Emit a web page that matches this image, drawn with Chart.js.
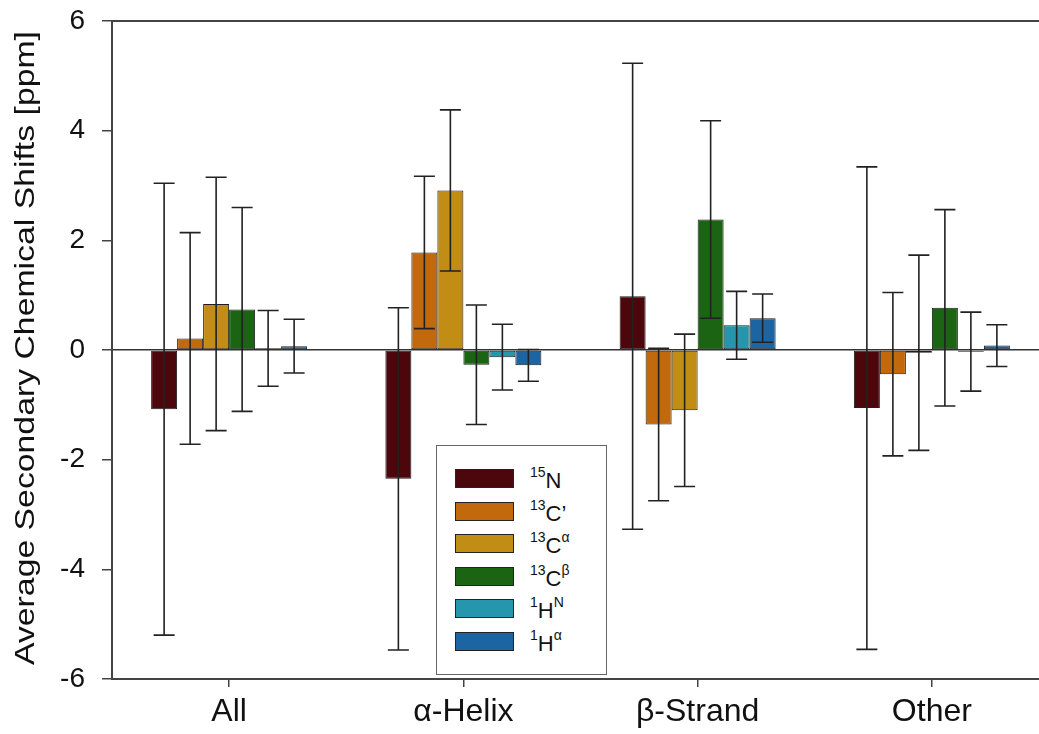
<!DOCTYPE html>
<html>
<head>
<meta charset="utf-8">
<script src="https://cdn.jsdelivr.net/npm/chart.js@4/dist/chart.umd.min.js"></script>
<style>
  html, body { margin: 0; padding: 0; background: #fff; overflow: hidden; width: 1039px; height: 734px; }
  #wrap { position: relative; width: 1050px; height: 734px; }
  canvas { position: absolute; left: 0; top: 0; }
  #legend { position: absolute; left: 436px; top: 445px; width: 169px; height: 228px; border: 1.5px solid #666; background: #fff;
            font-family: "Liberation Sans", Arial, sans-serif; color: #111; }
  .sw { position: absolute; left: 18px; width: 57px; height: 17px; border: 1px solid #222; }
  .lt { position: absolute; left: 93px; font-size: 22px; line-height: 22px; white-space: nowrap; }
  .lt .s { font-size: 14px; position: relative; top: -11px; line-height: 0; }
</style>
</head>
<body>
<div id="wrap">
  <canvas id="c" width="1050" height="734"></canvas>
  <div id="legend"></div>
</div>
<script>
// ---- data ----
const categories = ['All', 'α-Helix', 'β-Strand', 'Other'];
const seriesNames = ['15N', '13C\u2019', '13Cα', '13Cβ', '1HN', '1Hα'];
const legendPre  = ['15', '13', '13', '13', '1', '1'];
const legendMain = ['N', 'C\u2019', 'C', 'C', 'H', 'H'];
const legendPost = ['', '', 'α', 'β', 'N', 'α'];
const colors = ['#4b070c', '#c2690d', '#c18d15', '#1b6413', '#2596ab', '#1c65a2'];

const valN  = [-1.08, -2.35,  0.98, -1.06];
const valCO = [ 0.21,  1.78, -1.36, -0.44];
const valCA = [ 0.84,  2.91, -1.10, -0.05];
const valCB = [ 0.74, -0.27,  2.38,  0.77];
const valHN = [ 0.03, -0.13,  0.45, -0.03];
const valHA = [ 0.07, -0.28,  0.58,  0.08];

const errN  = [4.12, 3.12, 4.25, 4.40];
const errCO = [1.93, 1.39, 1.39, 1.49];
const errCA = [2.31, 1.47, 1.39, 1.78];
const errCB = [1.86, 1.09, 1.80, 1.79];
const errHN = [0.69, 0.60, 0.62, 0.72];
const errHA = [0.49, 0.29, 0.44, 0.38];

const yTicks = [-6, -4, -2, 0, 2, 4, 6];
const yTitle = 'Average Secondary Chemical Shifts [ppm]';

const values = [valN, valCO, valCA, valCB, valHN, valHA];
const errors = [errN, errCO, errCA, errCB, errHN, errHA];

const FONT = '"Liberation Sans", Arial, sans-serif';

const datasets = values.map((v, i) => ({
  label: seriesNames[i],
  data: v,
  errors: errors[i],
  backgroundColor: colors[i],
  borderColor: '#1e1e1e',
  borderWidth: 1,
  borderSkipped: false,
  barPercentage: 1.0,
  categoryPercentage: 0.666
}));

const errorBars = {
  id: 'errorBars',
  afterDatasetsDraw(chart) {
    const ctx = chart.ctx;
    const ys = chart.scales.y;
    ctx.save();
    ctx.strokeStyle = '#222';
    ctx.lineWidth = 1.6;
    chart.data.datasets.forEach((ds, i) => {
      const meta = chart.getDatasetMeta(i);
      meta.data.forEach((el, j) => {
        const v = ds.data[j], e = ds.errors[j];
        const yt = ys.getPixelForValue(v + e);
        const yb = ys.getPixelForValue(v - e);
        const x = el.x, hw = 10.5;
        ctx.beginPath();
        ctx.moveTo(x, yt); ctx.lineTo(x, yb);
        ctx.moveTo(x - hw, yt); ctx.lineTo(x + hw, yt);
        ctx.moveTo(x - hw, yb); ctx.lineTo(x + hw, yb);
        ctx.stroke();
      });
    });
    ctx.restore();
  }
};

const frame = {
  id: 'frame',
  afterDraw(chart) {
    const ctx = chart.ctx, a = chart.chartArea;
    ctx.save();
    ctx.strokeStyle = '#444';
    ctx.lineWidth = 2;
    ctx.beginPath();
    ctx.moveTo(a.left - 1, a.top); ctx.lineTo(a.right + 2, a.top);
    ctx.stroke();
    const cy = (a.top + a.bottom) / 2 - 2;
    ctx.translate(26, cy);
    ctx.rotate(-Math.PI / 2);
    ctx.font = '28px ' + FONT;
    const w = ctx.measureText(yTitle).width;
    ctx.scale(634 / w, 1);
    ctx.fillStyle = '#111';
    ctx.textAlign = 'center';
    ctx.textBaseline = 'middle';
    ctx.fillText(yTitle, 0, 0);
    ctx.restore();
  }
};

new Chart(document.getElementById('c'), {
  type: 'bar',
  data: { labels: categories, datasets },
  options: {
    responsive: false,
    animation: false,
    layout: { padding: { top: 21, right: 1, left: 0, bottom: 0 } },
    plugins: { legend: { display: false }, tooltip: { enabled: false } },
    scales: {
      x: {
        afterFit(s) { s.height = 55; s.paddingLeft = 0; s.paddingRight = 0; },
        border: { display: true, color: '#444', width: 2 },
        grid: { offset: false, drawOnChartArea: false, drawTicks: true, tickLength: 8, color: '#444', lineWidth: 1.5 },
        ticks: { font: { family: FONT, size: 32 }, color: '#111', padding: 6, maxRotation: 0 }
      },
      y: {
        min: -6, max: 6,
        afterFit(s) { s.width = 112; s.paddingTop = 0; s.paddingBottom = 0; },
        afterBuildTicks(s) { s.ticks = yTicks.map(v => ({ value: v })); },
        border: { display: true, color: '#444', width: 2 },
        grid: {
          drawOnChartArea: true, drawTicks: true, tickLength: 10,
          color: c => (c.tick && c.tick.value === 0) ? '#333' : 'rgba(0,0,0,0)',
          lineWidth: 1.5,
          tickColor: '#444', tickWidth: 1.5
        },
        ticks: { font: { family: FONT, size: 28 }, color: '#111', padding: 17 }
      }
    }
  },
  plugins: [errorBars, frame]
});

// ---- legend (HTML, with superscripts) ----
const lg = document.getElementById('legend');
seriesNames.forEach((n, i) => {
  const top = 23 + 32.5 * i;
  const sw = document.createElement('div');
  sw.className = 'sw';
  sw.style.top = top + 'px';
  sw.style.background = colors[i];
  lg.appendChild(sw);
  const t = document.createElement('div');
  t.className = 'lt';
  t.style.top = (top + 1) + 'px';
  t.innerHTML = '<span class="s">' + legendPre[i] + '</span>' + legendMain[i] +
                (legendPost[i] ? '<span class="s">' + legendPost[i] + '</span>' : '');
  lg.appendChild(t);
});
</script>
</body>
</html>
